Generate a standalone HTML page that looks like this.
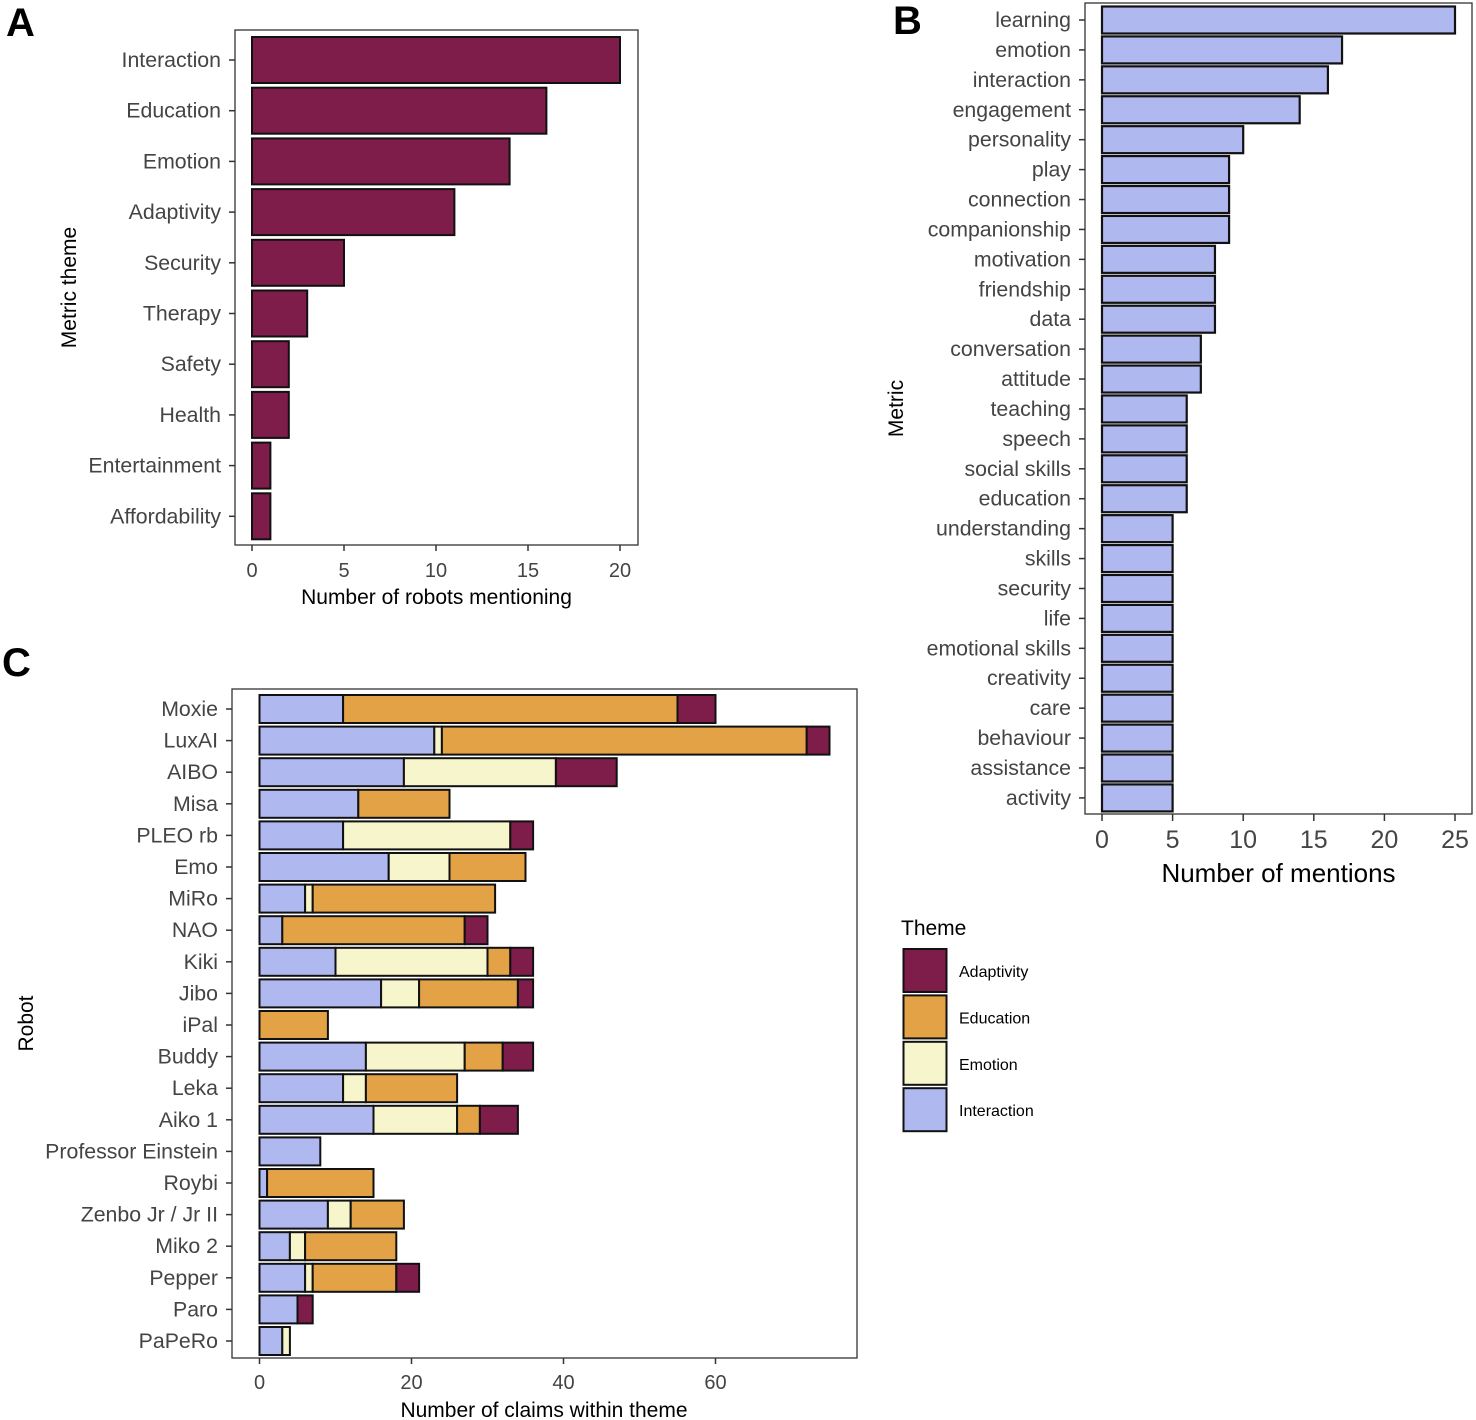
<!DOCTYPE html>
<html><head><meta charset="utf-8"><style>
body{margin:0;background:#fff;}
svg{display:block;font-family:"Liberation Sans",Arial,sans-serif;}
</style></head><body>
<svg id="fig" width="1476" height="1420" viewBox="0 0 1476 1420" xmlns="http://www.w3.org/2000/svg"></svg>
<script>
// Panel A data
const aCats = ["Interaction","Education","Emotion","Adaptivity","Security","Therapy","Safety","Health","Entertainment","Affordability"];
const aVals = [20,16,14,11,5,3,2,2,1,1];
const aTicks = [0,5,10,15,20];
// Panel B data
const bCats = ["learning","emotion","interaction","engagement","personality","play","connection","companionship","motivation","friendship","data","conversation","attitude","teaching","speech","social skills","education","understanding","skills","security","life","emotional skills","creativity","care","behaviour","assistance","activity"];
const bVals = [25,17,16,14,10,9,9,9,8,8,8,7,7,6,6,6,6,5,5,5,5,5,5,5,5,5,5];
const bTicks = [0,5,10,15,20,25];
// Panel C data
const cRobots = ["Moxie","LuxAI","AIBO","Misa","PLEO rb","Emo","MiRo","NAO","Kiki","Jibo","iPal","Buddy","Leka","Aiko 1","Professor Einstein","Roybi","Zenbo Jr / Jr II","Miko 2","Pepper","Paro","PaPeRo"];
const cInteraction = [11,23,19,13,11,17,6,3,10,16,0,14,11,15,8,1,9,4,6,5,3];
const cEmotion     = [0,1,20,0,22,8,1,0,20,5,0,13,3,11,0,0,3,2,1,0,1];
const cEducation   = [44,48,0,12,0,10,24,24,3,13,9,5,12,3,0,14,7,12,11,0,0];
const cAdaptivity  = [5,3,8,0,3,0,0,3,3,2,0,4,0,5,0,0,0,0,3,2,0];
const cTicks = [0,20,40,60];
const themes = ["Adaptivity","Education","Emotion","Interaction"];

const COL = {Adaptivity:"#7e1c4a",Education:"#e3a245",Emotion:"#f6f5cb",Interaction:"#b0b8f0"};
const NS="http://www.w3.org/2000/svg";
const svg=document.getElementById('fig');
function el(tag,attrs,parent){const e=document.createElementNS(NS,tag);for(const k in attrs)e.setAttribute(k,attrs[k]);(parent||svg).appendChild(e);return e;}
function txt(s,attrs,parent){const e=el('text',attrs,parent);e.textContent=s;return e;}
const LBL=21.3;

let t;
t=txt("A",{x:6,y:36,'font-size':40,'font-weight':'bold',fill:'#000'});

t=txt("B",{x:893,y:34,'font-size':40,'font-weight':'bold',fill:'#000'});

t=txt("C",{x:2,y:676,'font-size':40,'font-weight':'bold',fill:'#000'});


// ===== Panel A =====
(function(){
 const g=el('g',{});
 
 const x0=252, x1=620, vmax=20, top=30, bottom=545, left=235, right=638;
 const xs=v=>x0+(x1-x0)*v/vmax;
 const step=50.7, y0=60, bh=46;
 el('rect',{x:left,y:top,width:right-left,height:bottom-top,fill:'#fff',stroke:'#333','stroke-width':1.3},g);
 aCats.forEach((c,i)=>{
  const y=y0+i*step;
  const r=el('rect',{x:xs(0),y:y-bh/2,width:xs(aVals[i])-xs(0),height:bh,fill:COL.Adaptivity,stroke:'#111','stroke-width':2},g);
  
  el('line',{x1:left-6,x2:left,y1:y,y2:y,stroke:'#333','stroke-width':1.5},g);
  const l=txt(c,{x:left-14,y:y+7,'text-anchor':'end','font-size':LBL,fill:'#444'},g);
  
 });
 aTicks.forEach(v=>{
  el('line',{x1:xs(v),x2:xs(v),y1:bottom,y2:bottom+6,stroke:'#333','stroke-width':1.5},g);
  const l=txt(String(v),{x:xs(v),y:bottom+32,'text-anchor':'middle','font-size':20,fill:'#444'},g);
  
 });
 const xt=txt("Number of robots mentioning",{x:(left+right)/2,y:604,'text-anchor':'middle','font-size':21,fill:'#000'},g);
 
 const yt=txt("Metric theme",{x:0,y:0,'text-anchor':'middle','font-size':21,fill:'#000',transform:`translate(76,${(top+bottom)/2}) rotate(-90)`},g);
 
})();

// ===== Panel B =====
(function(){
 const g=el('g',{});
 
 const x0=1102, x1=1455, vmax=25, top=3, bottom=814, left=1085, right=1472;
 const xs=v=>x0+(x1-x0)*v/vmax;
 const step=29.92, y0=20, bh=27;
 el('rect',{x:left,y:top,width:right-left,height:bottom-top,fill:'#fff',stroke:'#333','stroke-width':1.3},g);
 bCats.forEach((c,i)=>{
  const y=y0+i*step;
  const r=el('rect',{x:xs(0),y:y-bh/2,width:xs(bVals[i])-xs(0),height:bh,fill:COL.Interaction,stroke:'#111','stroke-width':2.2},g);
  
  el('line',{x1:left-6,x2:left,y1:y,y2:y,stroke:'#333','stroke-width':1.5},g);
  const l=txt(c,{x:left-14,y:y+7,'text-anchor':'end','font-size':LBL,fill:'#444'},g);
  
 });
 bTicks.forEach(v=>{
  el('line',{x1:xs(v),x2:xs(v),y1:bottom,y2:bottom+7,stroke:'#333','stroke-width':1.5},g);
  const l=txt(String(v),{x:xs(v),y:bottom+34,'text-anchor':'middle','font-size':25,fill:'#444'},g);
  
 });
 const xt=txt("Number of mentions",{x:(left+right)/2,y:882,'text-anchor':'middle','font-size':26,fill:'#000'},g);
 
 const yt=txt("Metric",{x:0,y:0,'text-anchor':'middle','font-size':21,fill:'#000',transform:`translate(903,${(top+bottom)/2}) rotate(-90)`},g);
 
})();

// ===== Panel C =====
(function(){
 const g=el('g',{});
 
 const x0=259.5, x60=715.5, top=689, bottom=1358, left=232, right=857;
 const xs=v=>x0+(x60-x0)*v/60;
 const step=31.6, y0=709, bh=28;
 el('rect',{x:left,y:top,width:right-left,height:bottom-top,fill:'#fff',stroke:'#333','stroke-width':1.3},g);
 const order=[["Interaction",cInteraction],["Emotion",cEmotion],["Education",cEducation],["Adaptivity",cAdaptivity]];
 cRobots.forEach((c,i)=>{
  const y=y0+i*step;
  let acc=0;
  order.forEach(([name,arr])=>{
   const v=arr[i];
   if(v>0){
    const r=el('rect',{x:xs(acc),y:y-bh/2,width:xs(acc+v)-xs(acc),height:bh,fill:COL[name],stroke:'#111','stroke-width':2},g);
    
   }
   acc+=v;
  });
  el('line',{x1:left-6,x2:left,y1:y,y2:y,stroke:'#333','stroke-width':1.5},g);
  const l=txt(c,{x:left-14,y:y+7,'text-anchor':'end','font-size':LBL,fill:'#444'},g);
  
 });
 cTicks.forEach(v=>{
  el('line',{x1:xs(v),x2:xs(v),y1:bottom,y2:bottom+6,stroke:'#333','stroke-width':1.5},g);
  const l=txt(String(v),{x:xs(v),y:bottom+31,'text-anchor':'middle','font-size':20,fill:'#444'},g);
  
 });
 const xt=txt("Number of claims within theme",{x:544,y:1417,'text-anchor':'middle','font-size':21,fill:'#000'},g);
 
 const yt=txt("Robot",{x:0,y:0,'text-anchor':'middle','font-size':21,fill:'#000',transform:`translate(33,${(top+bottom)/2}) rotate(-90)`},g);
 

 const lg=el('g',{});
 
 const lt=txt("Theme",{x:901,y:935,'font-size':21,fill:'#000'},lg);
 
 themes.forEach((th,i)=>{
  const y=949+i*46.4;
  const k=el('rect',{x:903.5,y:y,width:43,height:43,fill:COL[th],stroke:'#111','stroke-width':2},lg);
  
  const l=txt(th,{x:959,y:y+28,'font-size':16,fill:'#000'},lg);
  
 });
})();
</script>
</body></html>
